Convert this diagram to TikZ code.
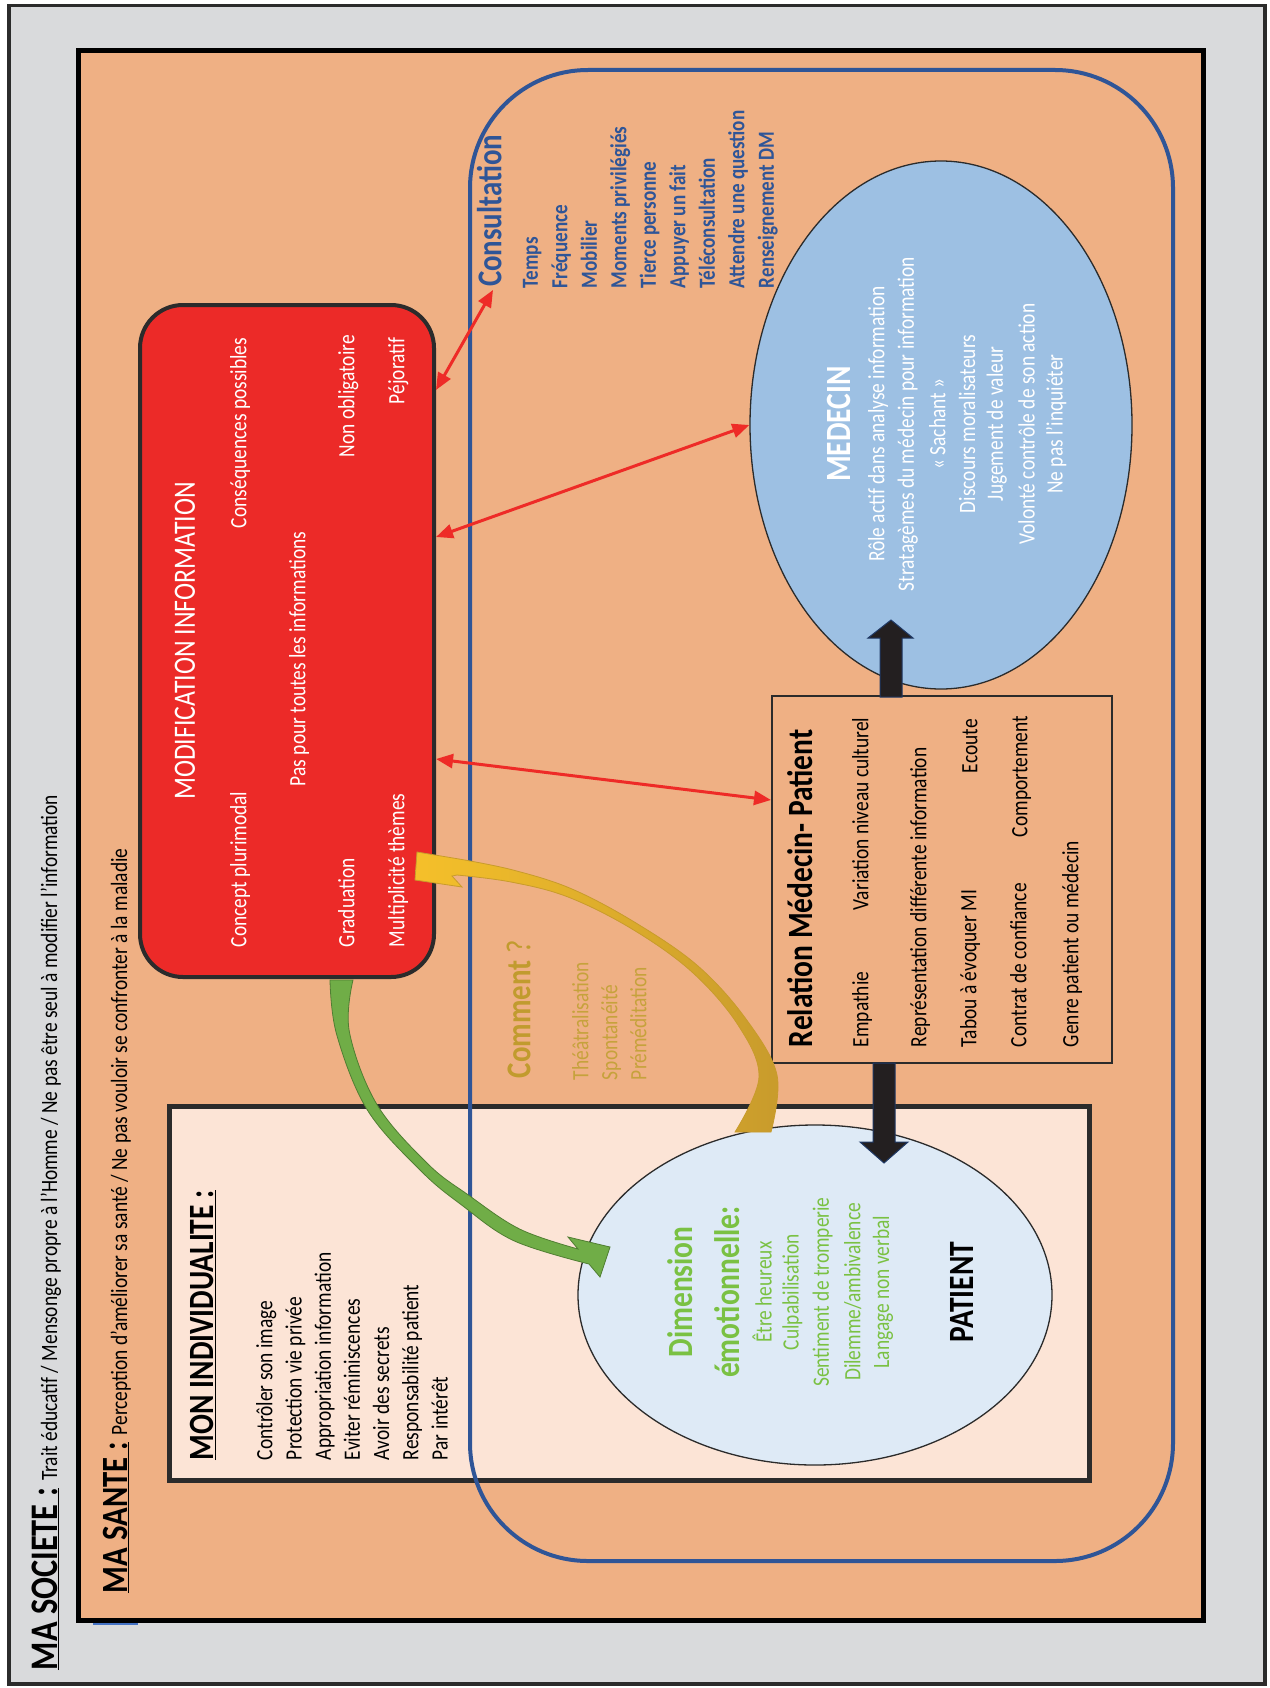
\documentclass[tikz,border=0pt]{standalone}
\usepackage{fontspec}
\setmainfont{Carlito}[FakeStretch=0.83]
\usetikzlibrary{shapes.geometric,arrows.meta}
\definecolor{socgray}{HTML}{D9DADC}
\definecolor{framedark}{HTML}{2B2B2B}
\definecolor{santeorange}{HTML}{EFB084}
\definecolor{pale}{HTML}{FCE4D6}
\definecolor{modred}{HTML}{EC2A28}
\definecolor{consblue}{HTML}{2F5597}
\definecolor{medblue}{HTML}{9DC0E3}
\definecolor{patblue}{HTML}{DEEAF6}
\definecolor{greent}{HTML}{7AC143}
\definecolor{greenarr}{HTML}{70AD47}
\definecolor{greenline}{HTML}{507E32}
\definecolor{goldt}{HTML}{C19B2E}
\definecolor{golditem}{HTML}{C6A23C}
\definecolor{yellowhead}{HTML}{F5C02A}
\definecolor{goldarr}{HTML}{C89B2C}
\definecolor{arrred}{HTML}{EE2B27}
\definecolor{blk}{HTML}{231F20}
\definecolor{navy}{HTML}{1F3864}
\definecolor{smallblue}{HTML}{4472C4}
\tikzset{
  rt/.style={rotate=90, inner sep=0pt, outer sep=0pt},
  body/.style={rt, font=\fontsize{23.4}{28}\selectfont},
  bodyb/.style={rt, font=\fontsize{23}{28}\selectfont\bfseries},
  ttl/.style={rt, font=\fontsize{35.5}{40}\selectfont\bfseries},
  redarr/.style={draw=arrred, line width=3pt, {Triangle[length=17pt,width=14pt]}-{Triangle[length=17pt,width=14pt]}},
  blockarr/.style={fill=blk, draw=navy, line width=1pt},
}
\begin{document}
\begin{tikzpicture}[x=1pt,y=-1pt]
\useasboundingbox (0,0) rectangle (1269,1688);
\fill[white] (0,0) rectangle (1269,1688);
% frames
\draw[line width=3.5pt, draw=framedark, fill=socgray] (9,5.5) rectangle (1265,1684);
\draw[line width=5pt, draw=black, fill=santeorange] (78,51) rectangle (1203,1620);
\draw[smallblue, line width=2.5pt] (93,1624) -- (138,1624);
% individualite box
\draw[line width=5pt, draw=framedark, fill=pale] (169,1106) rectangle (1089,1480);
% red box
\node[draw=framedark, line width=4pt, fill=modred, rounded corners=43pt,
      minimum width=294pt, minimum height=672pt] (modif) at (287,641) {};
% consultation zone
\draw[consblue, line width=4pt, rounded corners=118pt] (470,70) rectangle (1173,1561);
% ellipses and relation box
\node[ellipse, draw=framedark, line width=1.3pt, fill=medblue, inner sep=0pt,
      minimum width=382pt, minimum height=528pt] (med) at (941,425) {};
\node[ellipse, draw=framedark, line width=1.3pt, fill=patblue, inner sep=0pt,
      minimum width=474pt, minimum height=340pt] (pat) at (815,1295) {};
\node[draw=framedark, line width=1.5pt, minimum width=340pt, minimum height=367pt] (rel) at (942,879.5) {};

% ---------- texts ----------
\node[rt, anchor=base west] (soc) at (57,1670)
  {{\fontsize{39}{44}\selectfont\bfseries\underline{MA SOCIETE :}\ }{\fontsize{23.4}{28}\selectfont Trait éducatif / Mensonge propre à l’Homme / Ne pas être seul à modifier l’information}};
\node[rt, anchor=base west] (sante) at (127,1593)
  {{\fontsize{37}{42}\selectfont\bfseries\underline{MA SANTE :}\ }{\fontsize{23.4}{28}\selectfont Perception d’améliorer sa santé / Ne pas vouloir se confronter à la maladie}};

% modification information
\node[rt, font=\fontsize{31}{36}\selectfont, text=white] (mtitle) at (185,641) {MODIFICATION INFORMATION};
\node[body, text=white, anchor=mid west] (m1) at (244,947) {Concept plurimodal};
\node[body, text=white, anchor=mid west] (m2) at (244,528) {Conséquences possibles};
\node[body, text=white, anchor=mid west] (m3) at (303,786) {Pas pour toutes les informations};
\node[body, text=white, anchor=mid west] (m4) at (352,947) {Graduation};
\node[body, text=white, anchor=mid west] (m5) at (352,457) {Non obligatoire};
\node[body, text=white, anchor=mid west] (m6) at (402,947) {Multiplicité thèmes};
\node[body, text=white, anchor=mid west] (m7) at (402,404) {Péjoratif};

% mon individualite
\node[ttl, anchor=mid west] (indt) at (211,1460) {\underline{MON INDIVIDUALITE :}};
\foreach \t [count=\i] in {Contrôler son image, Protection vie privée, Appropriation information,
  Eviter réminiscences, Avoir des secrets, Responsabilité patient, Par intérêt}
  \node[body, anchor=mid west] (ind\i) at ({240.8+29.2*\i},1460) {\t};

% consultation
\node[ttl, font=\fontsize{34.8}{40}\selectfont\bfseries, text=consblue, anchor=mid west] (cons) at (499,287) {Consultation};
\foreach \t [count=\i] in {Temps, Fréquence, Mobilier, Moments privilégiés, Tierce personne,
  Appuyer un fait, Téléconsultation, Attendre une question, Renseignement DM}
  \node[bodyb, text=consblue, anchor=mid west] (cit\i) at ({506+29.5*\i},288) {\t};

% medecin
\node[ttl, text=white] (medt) at (839,424) {MEDECIN};
\foreach \t [count=\i] in {Rôle actif dans analyse information, Stratagèmes du médecin pour information,
  « Sachant », Discours moralisateurs, Jugement de valeur, Volonté contrôle de son action, Ne pas l’inquiéter}
  \node[body, text=white] (mit\i) at ({848.3+29.7*\i},424) {\t};

% relation
\node[ttl, anchor=mid west] (relt) at (810,1047) {Relation Médecin- Patient};
\node[body, anchor=mid west] (r1) at (866,1047) {Empathie};
\node[body, anchor=mid west] (r2) at (866,910) {Variation niveau culturel};
\node[body, anchor=mid west] (r3) at (924,1047) {Représentation différente information};
\node[body, anchor=mid west] (r4) at (974,1047) {Tabou à évoquer MI};
\node[body, anchor=mid west] (r5) at (975,773) {Ecoute};
\node[body, anchor=mid west] (r6) at (1024,1047) {Contrat de confiance};
\node[body, anchor=mid west] (r7) at (1025,837) {Comportement};
\node[body, anchor=mid west] (r8) at (1076,1047) {Genre patient ou médecin};

% comment
\node[rt, anchor=mid west, text=goldt] (com) at (528,1078)
  {\fontsize{34.8}{40}\selectfont\bfseries Comment\mdseries\ ?};
\node[body, text=golditem, anchor=mid west] (co1) at (586,1080) {Théâtralisation};
\node[body, text=golditem, anchor=mid west] (co2) at (615,1080) {Spontanéité};
\node[body, text=golditem, anchor=mid west] (co3) at (644,1080) {Préméditation};

% patient
\node[ttl, text=greent] (dim1) at (680,1292) {Dimension};
\node[ttl, text=greent] (dim2) at (727,1292) {émotionnelle:};
\foreach \t [count=\i] in {Être heureux, Culpabilisation, Sentiment de tromperie, Dilemme/ambivalence, Langage non verbal}
  \node[body, text=greent] (dit\i) at ({732+30.2*\i},1292) {\t};
\node[ttl] (patt) at (962,1292) {PATIENT};

% ---------- connectors ----------
\coordinate (a1s) at (436,390);
\coordinate (a1e) at (493,290);
\coordinate (a2s) at (436,537);
\coordinate (a3s) at (436,759);
\coordinate (a3e) at (771,800);
\draw[redarr] (a1s) -- (a1e);
\draw[redarr] (a2s) -- (med.west);
\draw[redarr] (a3s) -- (a3e);

% black block arrows
\draw[blockarr] (873,1063) -- (895,1063) -- (895,1142) -- (908,1142) -- (884,1163) -- (860,1142) -- (873,1142) -- cycle;
\draw[blockarr] (880,697) -- (902,697) -- (902,638) -- (913,638) -- (891,620) -- (868,638) -- (880,638) -- cycle;

% green curved arrow
\draw[fill=greenarr, draw=greenline, line width=0.8pt]
  plot[smooth, tension=0.6] coordinates {(330,980) (336.7,1034.6) (367.3,1109.9) (420.5,1170.5) (461.5,1204.9) (514,1240.8) (589,1264)}
  -- (600,1277) -- (610,1247) -- (568,1237) --
  plot[smooth, tension=0.6] coordinates {(578,1249) (520,1229.2) (468.5,1195.1) (427.5,1163.5) (376.7,1104.1) (349.3,1031.4) (353,980)}
  -- cycle;

% yellow curved arrow
\shade[left color=yellowhead, right color=goldarr, draw=goldarr, line width=0.8pt]
  plot[smooth, tension=0.6] coordinates {(771,1132) (777,1075) (746,1019) (698,966) (636,923) (572,889) (513,870) (459,859)}
  -- (417,852) -- (415,880) -- (462,887) -- (452,876) --
  plot[smooth, tension=0.6] coordinates {(457,875) (511,882) (568,897) (632,929) (692,972) (738,1025) (759,1077) (735,1132)}
  -- cycle;
\end{tikzpicture}
\end{document}
